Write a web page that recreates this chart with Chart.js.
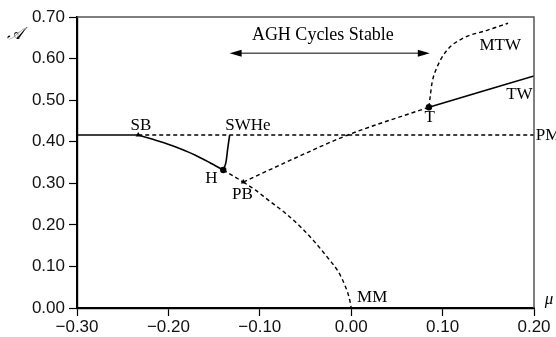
<!DOCTYPE html>
<html>
<head>
<meta charset="utf-8">
<script src="https://cdn.jsdelivr.net/npm/chart.js@4.4.0/dist/chart.umd.min.js"></script>
<style>
  html, body { margin: 0; padding: 0; background: #fff; }
  #wrap { width: 556px; height: 337px; }
</style>
</head>
<body>
<div id="wrap"><canvas id="c" width="556" height="337"></canvas></div>
<script>
// ---- Data (mu, A) ----
const xTicks = [-0.30, -0.20, -0.10, 0.00, 0.10, 0.20];
const yTicks = [0.00, 0.10, 0.20, 0.30, 0.40, 0.50, 0.60, 0.70];

const pmSolidMu = [-0.30, -0.233];
const pmSolidA  = [0.416, 0.416];
const pmDashMu  = [-0.233, 0.20];
const pmDashA   = [0.416, 0.416];

const sbhMu = [-0.233, -0.220, -0.204, -0.187, -0.171, -0.155, -0.140];
const sbhA  = [0.416, 0.4075, 0.397, 0.383, 0.368, 0.350, 0.332];

const swheMu = [-0.140, -0.137, -0.135, -0.133];
const swheA  = [0.332, 0.351, 0.385, 0.416];

const hpbMu = [-0.140, -0.118];
const hpbA  = [0.332, 0.303];

const mmMu = [-0.118, -0.105, -0.091, -0.072, -0.054, -0.040, -0.025, -0.014, -0.007, -0.002, 0.000];
const mmA  = [0.303, 0.284, 0.260, 0.228, 0.192, 0.159, 0.119, 0.087, 0.055, 0.023, 0.000];

const pbtMu = [-0.118, -0.060, -0.005, 0.085];
const pbtA  = [0.303, 0.362, 0.415, 0.483];

const twMu = [0.085, 0.200];
const twA  = [0.483, 0.558];

const mtwMu = [0.085, 0.0865, 0.0884, 0.0939, 0.1048, 0.1223, 0.1486, 0.1716];
const mtwA  = [0.483, 0.510, 0.541, 0.579, 0.620, 0.649, 0.668, 0.685];

const circleMu = [-0.140, 0.085];
const circleA  = [0.332, 0.483];
const triMu = [-0.233, -0.118];
const triA  = [0.416, 0.303];

const labelText = ['SB', 'SWHe', 'H', 'PB', 'MM', 'T', 'TW', 'MTW'];
const labelMu   = [-0.230, -0.113, -0.153, -0.119, 0.023, 0.086, 0.184, 0.163];
const labelA    = [0.440, 0.440, 0.312, 0.274, 0.026, 0.457, 0.514, 0.632];

const pmLabel = 'PM';
const pmLabelMu = 0.202, pmLabelA = 0.416;

const arrowText = 'AGH Cycles Stable';
const arrowTextMu = -0.031, arrowTextA = 0.656;
const arrowMu = [-0.133, 0.086];
const arrowA = 0.613;

// ---- helpers ----
const pts = (xs, ys) => xs.map((x, i) => ({ x: x, y: ys[i] }));
const SERIF = '"Liberation Serif", "DejaVu Serif", serif';
const SANS = '"Liberation Sans", Arial, sans-serif';

function lineDs(xs, ys, dashed, width) {
  return {
    data: pts(xs, ys),
    showLine: true,
    borderColor: '#000',
    borderWidth: width || (dashed ? 1.4 : 1.6),
    borderDash: dashed ? [4, 3] : [],
    pointRadius: 0,
    cubicInterpolationMode: 'monotone',
    fill: false
  };
}

const datasets = [
  lineDs(pmSolidMu, pmSolidA, false),
  lineDs(pmDashMu, pmDashA, true),
  lineDs(sbhMu, sbhA, false),
  lineDs(swheMu, swheA, false),
  lineDs(hpbMu, hpbA, true),
  lineDs(mmMu, mmA, true),
  lineDs(pbtMu, pbtA, true),
  lineDs(twMu, twA, false),
  lineDs(mtwMu, mtwA, true),
  {
    data: pts(circleMu, circleA), showLine: false,
    pointStyle: 'circle', pointRadius: 3.2,
    pointBackgroundColor: '#000', pointBorderColor: '#000', pointBorderWidth: 0
  },
  {
    data: pts(triMu, triA), showLine: false,
    pointStyle: 'triangle', pointRadius: 3,
    pointBackgroundColor: '#000', pointBorderColor: '#000', pointBorderWidth: 0
  }
];

const fmt = v => {
  const s = Math.abs(v).toFixed(2);
  return (v < -1e-9 ? '\u2212' : '') + s;
};

const decor = {
  id: 'decor',
  afterDatasetsDraw(chart) {
    const ctx = chart.ctx;
    const xs = chart.scales.x, ys = chart.scales.y;
    const ca = chart.chartArea;
    ctx.save();
    // top and right frame
    ctx.strokeStyle = '#555';
    ctx.lineWidth = 1.5;
    ctx.beginPath();
    ctx.moveTo(ca.left, ca.top);
    ctx.lineTo(ca.right, ca.top);
    ctx.lineTo(ca.right, ca.bottom);
    ctx.stroke();

    // point labels
    ctx.fillStyle = '#000';
    ctx.font = '17px ' + SERIF;
    ctx.textAlign = 'center';
    ctx.textBaseline = 'middle';
    labelText.forEach((t, i) => {
      ctx.fillText(t, xs.getPixelForValue(labelMu[i]), ys.getPixelForValue(labelA[i]));
    });
    ctx.textAlign = 'left';
    ctx.fillText(pmLabel, xs.getPixelForValue(pmLabelMu), ys.getPixelForValue(pmLabelA));

    // arrow text
    ctx.textAlign = 'center';
    ctx.font = '18px ' + SERIF;
    ctx.fillText(arrowText, xs.getPixelForValue(arrowTextMu), ys.getPixelForValue(arrowTextA));

    // double arrow
    const ax0 = xs.getPixelForValue(arrowMu[0]);
    const ax1 = xs.getPixelForValue(arrowMu[1]);
    const ay = ys.getPixelForValue(arrowA);
    ctx.strokeStyle = '#000';
    ctx.lineWidth = 1;
    ctx.beginPath();
    ctx.moveTo(ax0 + 6, ay);
    ctx.lineTo(ax1 - 6, ay);
    ctx.stroke();
    ctx.beginPath();
    ctx.moveTo(ax0, ay); ctx.lineTo(ax0 + 12, ay - 3.5); ctx.lineTo(ax0 + 12, ay + 3.5); ctx.closePath();
    ctx.fill();
    ctx.beginPath();
    ctx.moveTo(ax1, ay); ctx.lineTo(ax1 - 12, ay - 3.5); ctx.lineTo(ax1 - 12, ay + 3.5); ctx.closePath();
    ctx.fill();

    // axis titles
    ctx.font = 'italic 17px ' + SERIF;
    ctx.textAlign = 'center';
    ctx.fillText('\u03BC', ca.right + 15, ca.bottom - 8);
    ctx.fillText('\uD835\uDC9C', ca.left - 62, ca.top + 18);
    ctx.restore();
  }
};

new Chart(document.getElementById('c'), {
  type: 'scatter',
  data: { datasets: datasets },
  options: {
    responsive: false,
    animation: false,
    devicePixelRatio: 1,
    layout: { padding: { left: 0, top: 17, right: 22, bottom: 0 } },
    plugins: { legend: { display: false }, tooltip: { enabled: false } },
    scales: {
      x: {
        type: 'linear', min: -0.30, max: 0.20,
        afterBuildTicks: s => { s.ticks = xTicks.map(v => ({ value: v })); },
        afterFit: s => { s.height = 29; },
        grid: { drawOnChartArea: false, drawTicks: true, tickLength: 8, tickColor: '#000', tickWidth: 1.2 },
        border: { color: '#000', width: 2.2 },
        ticks: { color: '#111', font: { family: SANS, size: 17 }, padding: 1, maxRotation: 0, autoSkip: false,
                 callback: v => fmt(v) }
      },
      y: {
        type: 'linear', min: 0, max: 0.70,
        afterBuildTicks: s => { s.ticks = yTicks.map(v => ({ value: v })); },
        afterFit: s => { s.width = 77; },
        grid: { drawOnChartArea: false, drawTicks: true, tickLength: 8, tickColor: '#000', tickWidth: 1.2 },
        border: { color: '#000', width: 2.2 },
        ticks: { color: '#111', font: { family: SANS, size: 17 }, padding: 4, autoSkip: false,
                 callback: v => v.toFixed(2) }
      }
    }
  },
  plugins: [decor]
});
</script>
</body>
</html>
